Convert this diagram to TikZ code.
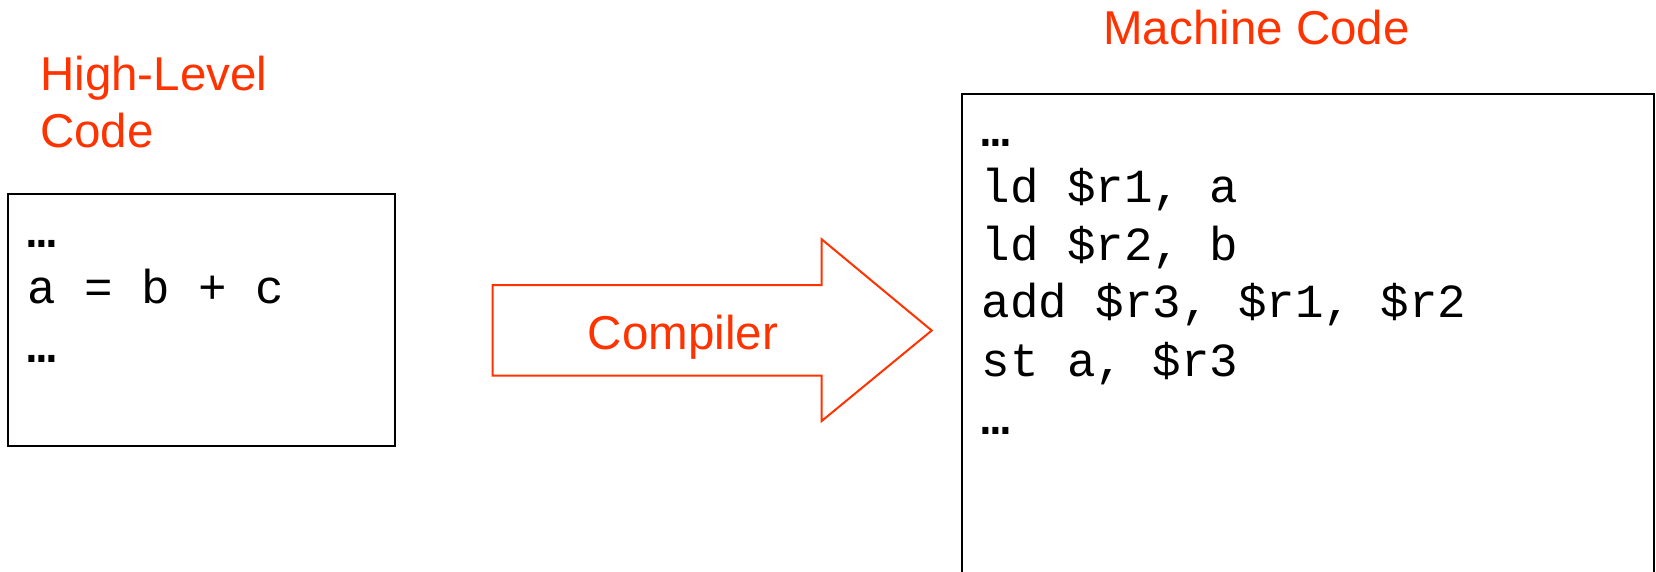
\documentclass[tikz,border=0pt]{standalone}
\usepackage{fontspec}
\setmainfont{Liberation Sans}
\newfontfamily\codefont{Liberation Mono}
\definecolor{hlred}{RGB}{255,51,0}
\begin{document}
\begin{tikzpicture}[x=1pt,y=-1pt,
  title/.style={inner sep=0pt,text=hlred,font=\fontsize{47.5}{57}\selectfont},
  codeline/.style={inner sep=0pt,anchor=base west,font=\codefont\fontsize{47.5}{57.5}\selectfont},
  dotsline/.style={codeline,font=\codefont\bfseries\fontsize{47.5}{57.5}\selectfont},
  codebox/.style={draw=black,line width=2pt},
  blockarrow/.style={draw=hlred,line width=2pt,line join=miter}]
\useasboundingbox (0,0) rectangle (1656,571);
\fill[white] (0,0) rectangle (1656,571);
% titles
\node[title,anchor=base west] (hl1) at (40,90) {High-Level};
\node[title,anchor=base west] (hl2) at (40,147) {Code};
\node[title,anchor=base] (mc) at (1256.5,44.4) {Machine Code};
% left box
\draw[codebox] (8.3,194) rectangle (395,446);
\node[dotsline] (l1) at (27.5,247) {…};
\node[codeline] (l2) at (27.5,303.3) {a = b + c};
\node[dotsline] (l3) at (27.5,362) {…};
% arrow
\draw[blockarrow] (492.7,285) -- (821.7,285) -- (821.7,239.3) -- (931.7,330.5)
  -- (821.7,421) -- (821.7,375.7) -- (492.7,375.7) -- cycle;
\node[title,anchor=base] (comp) at (683,349.3) {Compiler};
% right box
\draw[codebox] (961.5,93.6) rectangle (1654,590);
\node[dotsline] (r1) at (981.5,146.8) {…};
\node[codeline] (r2) at (981.5,202) {ld \$r1, a};
\node[codeline] (r3) at (981.5,260) {ld \$r2, b};
\node[codeline] (r4) at (981.5,317.5) {add \$r3, \$r1, \$r2};
\node[codeline] (r5) at (981.5,376) {st a, \$r3};
\node[dotsline] (r6) at (981.5,434.4) {…};
\end{tikzpicture}
\end{document}
